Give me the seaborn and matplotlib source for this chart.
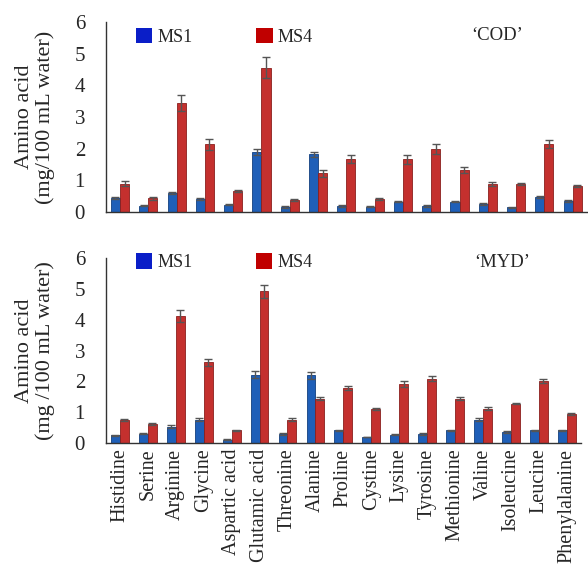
import pandas as pd
import matplotlib.pyplot as plt
import seaborn as sns
from matplotlib.patches import Patch

# Amino acid categories (same for both cultivars)
amino_acids = ['Histidine', 'Serine', 'Arginine', 'Glycine', 'Aspartic acid',
               'Glutamic acid', 'Threonine', 'Alanine', 'Proline', 'Cystine',
               'Lysine', 'Tyrosine', 'Methionine', 'Valine', 'Isoleucine',
               'Leucine', 'Phenylalanine']

# 'COD' values (mg/100 mL water)
cod_ms1 = [0.43, 0.20, 0.61, 0.41, 0.23, 1.90, 0.16, 1.83, 0.19, 0.17,
           0.33, 0.19, 0.33, 0.25, 0.15, 0.48, 0.36]
cod_ms4 = [0.90, 0.43, 3.45, 2.14, 0.67, 4.56, 0.38, 1.22, 1.67, 0.41,
           1.67, 1.99, 1.33, 0.88, 0.88, 2.15, 0.83]
cod_ms1_err = [0.03, 0.02, 0.03, 0.03, 0.02, 0.09, 0.02, 0.08, 0.02, 0.02,
               0.02, 0.02, 0.02, 0.03, 0.02, 0.03, 0.03]
cod_ms4_err = [0.07, 0.04, 0.25, 0.18, 0.04, 0.33, 0.03, 0.10, 0.12, 0.03,
               0.14, 0.17, 0.10, 0.06, 0.03, 0.14, 0.04]

# 'MYD' values (mg/100 mL water)
myd_ms1 = [0.25, 0.30, 0.53, 0.76, 0.11, 2.22, 0.29, 2.19, 0.41, 0.19,
           0.27, 0.29, 0.41, 0.76, 0.36, 0.41, 0.41]
myd_ms4 = [0.76, 0.63, 4.11, 2.62, 0.41, 4.92, 0.76, 1.44, 1.79, 1.11,
           1.92, 2.09, 1.44, 1.11, 1.28, 2.02, 0.94]
myd_ms1_err = [0.02, 0.02, 0.04, 0.04, 0.01, 0.11, 0.02, 0.10, 0.02, 0.01,
               0.02, 0.02, 0.02, 0.04, 0.02, 0.02, 0.02]
myd_ms4_err = [0.03, 0.03, 0.20, 0.12, 0.02, 0.22, 0.04, 0.04, 0.06, 0.04,
               0.10, 0.07, 0.04, 0.05, 0.03, 0.07, 0.04]

sns.set_style('white')
plt.rcParams['font.family'] = ['Liberation Serif', 'DejaVu Serif']

bar_colors = {'MS1': '#1f5fb8', 'MS4': '#c4302e'}
edge_colors = {'MS1': '#12407e', 'MS4': '#8a1f1d'}
legend_colors = {'MS1': '#0a1ec8', 'MS4': '#c00000'}

fig = plt.figure(figsize=(5.88, 5.64), dpi=100)
ax1 = fig.add_axes([0.180, 0.624, 0.818, 0.337])
ax2 = fig.add_axes([0.180, 0.2145, 0.808, 0.328])

panels = [
    (ax1, cod_ms1, cod_ms4, cod_ms1_err, cod_ms4_err, '\u2018COD\u2019',
     'Amino acid\n(mg/100 mL water)', (0.813, 0.93), 0.97),
    (ax2, myd_ms1, myd_ms4, myd_ms1_err, myd_ms4_err, '\u2018MYD\u2019',
     'Amino acid\n(mg /100 mL water)', (0.834, 0.975), 1.025),
]

for ax, ms1, ms4, e1, e4, name, ylab, name_pos, leg_y in panels:
    df = pd.DataFrame({
        'Amino acid': amino_acids * 2,
        'Value': ms1 + ms4,
        'Stage': ['MS1'] * len(ms1) + ['MS4'] * len(ms4),
    })
    sns.barplot(data=df, x='Amino acid', y='Value', hue='Stage',
                palette=bar_colors, width=0.64, errorbar=None, ax=ax,
                legend=False, saturation=1)

    # error bars on top of each bar container
    for cont, stage, errs in zip(ax.containers, ['MS1', 'MS4'], [e1, e4]):
        for bar, err in zip(cont, errs):
            bar.set_edgecolor(edge_colors[stage])
            bar.set_linewidth(0.6)
            xc = bar.get_x() + bar.get_width() / 2
            ax.errorbar(xc, bar.get_height(), yerr=err, fmt='none',
                        ecolor='#555555', elinewidth=1, capsize=3, capthick=1)

    ax.set_ylim(0, 6)
    ax.set_xlim(-0.5, len(amino_acids) - 0.5)
    ax.set_yticks(range(0, 7))
    ax.set_xlabel('')
    ax.set_ylabel(ylab, fontsize=16, labelpad=14, linespacing=1.1)
    ax.tick_params(axis='y', length=0, labelsize=15, pad=15)
    ax.tick_params(axis='x', length=0)
    for side in ['top', 'right']:
        ax.spines[side].set_visible(False)
    for side in ['left', 'bottom']:
        ax.spines[side].set_color('#333333')
        ax.spines[side].set_linewidth(1)

    ax.text(name_pos[0], name_pos[1], name, transform=ax.transAxes,
            fontsize=13.5, ha='center', va='center')

    handles = [Patch(facecolor=legend_colors[s], edgecolor='none', label=s)
               for s in ['MS1', 'MS4']]
    ax.legend(handles=handles, loc='upper left', bbox_to_anchor=(0.063, leg_y),
              ncol=2, frameon=False, fontsize=13, handlelength=0.9,
              handleheight=0.95, handletextpad=0.3, columnspacing=3.5,
              borderaxespad=0, borderpad=0)

ax1.set_xticks(range(len(amino_acids)))
ax1.set_xticklabels([])
ax2.set_xticks(range(len(amino_acids)))
ax2.set_xticklabels(amino_acids, rotation=90, fontsize=14.5)
ax2.tick_params(axis='x', pad=4)

fig.savefig('out.png', dpi=100)
